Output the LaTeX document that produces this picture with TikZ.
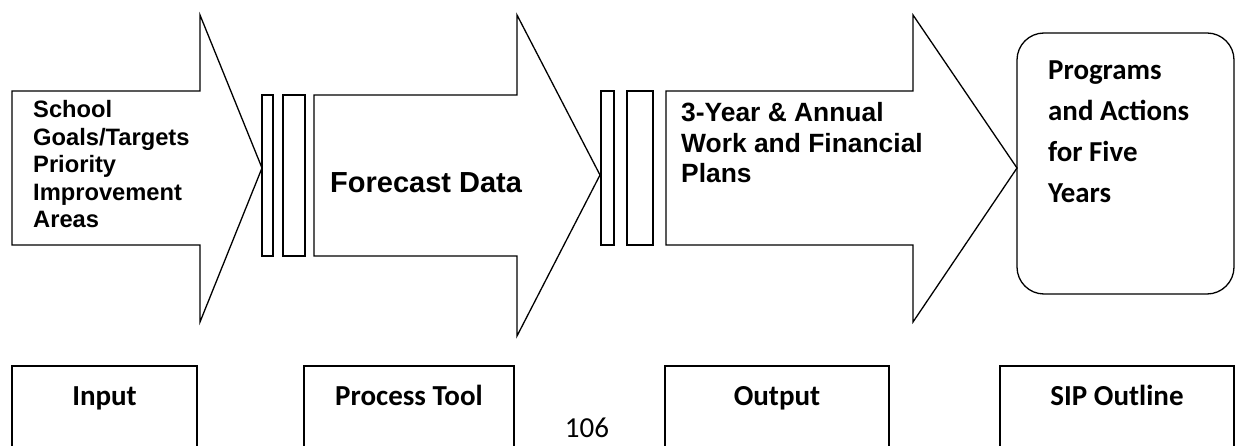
\documentclass[tikz,border=0pt]{standalone}
\usepackage{fontspec}
\setmainfont{Liberation Sans}
\newfontfamily\calfont{Carlito}
\begin{document}
\begin{tikzpicture}[x=1pt,y=-1pt,
  outl/.style={draw=black,line width=1.3pt,line join=miter},
  ariallbl/.style={inner sep=0pt,align=left},
  calilbl/.style={inner sep=0pt},
]
\clip (0,0) rectangle (1236,446);
\fill[white] (0,0) rectangle (1236,446);

% arrows
\draw[outl] (12,91) -- (200,91) -- (200,15) -- (262,168) -- (200,322) -- (200,245) -- (12,245) -- cycle;
\draw[outl] (314,95) -- (517,95) -- (517,15) -- (600,175) -- (517,336) -- (517,256) -- (314,256) -- cycle;
\draw[outl] (666,91) -- (913,91) -- (913,15) -- (1017,168) -- (913,322) -- (913,245) -- (666,245) -- cycle;

% bars
\draw[outl] (262,95) rectangle (273,256);
\draw[outl] (283,95) rectangle (305,256);
\draw[outl] (601,91) rectangle (614,245);
\draw[outl] (627,91) rectangle (653,245);

% rounded box
\draw[outl,rounded corners=27pt] (1017,33) rectangle (1234,294);

% arrow texts (base anchor = last line's baseline)
\node[ariallbl,anchor=base west,font=\fontsize{23.7}{27.5}\selectfont\bfseries] (t1) at (33,228)
  {School\\Goals/Targets\\Priority\\Improvement\\Areas};
\node[ariallbl,anchor=base west,font=\fontsize{29}{34}\selectfont\bfseries] (t2) at (330,193) {Forecast Data};
\node[ariallbl,anchor=base west,font=\fontsize{26.4}{30.5}\selectfont\bfseries] (t3) at (681,183)
  {3-Year \& Annual\\Work and Financial\\Plans};
\node[calilbl,anchor=base west,align=left,font=\fontsize{28.9}{41}\selectfont\calfont\bfseries] (t4) at (1048,203)
  {Programs\\and Actions\\for Five\\Years};

% bottom boxes
\draw[outl] (12,460) -- (12,366) -- (197,366) -- (197,460);
\draw[outl] (304,460) -- (304,366) -- (514,366) -- (514,460);
\draw[outl] (665,460) -- (665,366) -- (889,366) -- (889,460);
\draw[outl] (1000,460) -- (1000,366) -- (1234,366) -- (1234,460);

\node[calilbl,anchor=base,font=\fontsize{29}{34}\selectfont\calfont\bfseries] (b1) at (104.5,405) {Input};
\node[calilbl,anchor=base,font=\fontsize{29}{34}\selectfont\calfont\bfseries] (b2) at (409,405) {Process Tool};
\node[calilbl,anchor=base,font=\fontsize{29}{34}\selectfont\calfont\bfseries] (b3) at (777,405) {Output};
\node[calilbl,anchor=base,font=\fontsize{29}{34}\selectfont\calfont\bfseries] (b4) at (1117,405) {SIP Outline};
\node[inner sep=0pt,anchor=base,font=\fontsize{29}{34}\selectfont\calfont] (pg) at (587,437) {106};
\end{tikzpicture}
\end{document}
